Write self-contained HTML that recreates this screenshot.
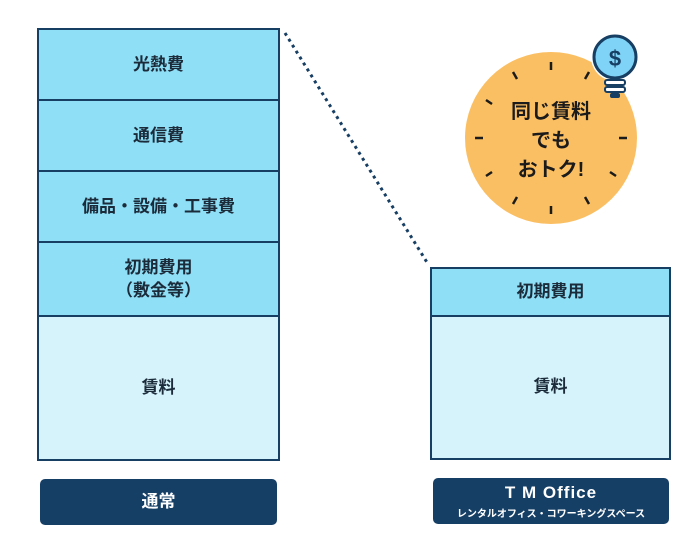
<!DOCTYPE html>
<html><head><meta charset="utf-8"><style>
body{margin:0;width:700px;height:550px;background:#fff;position:relative;font-family:"Liberation Sans","Noto Sans CJK JP",sans-serif;overflow:hidden}
.c{position:absolute;box-sizing:border-box;border:2.5px solid #173e63;display:flex;align-items:center;justify-content:center;text-align:center;font-size:17px;font-weight:bold;color:#1b2b3a;line-height:1.35}
.d{background:#8fdff6}.l{background:#d6f3fb}
.lab{position:absolute;background:#163f66;border-radius:5px;color:#fff;font-weight:bold;text-align:center}
</style></head><body>
<div class="c d" style="left:37px;top:28px;width:243px;height:74px">光熱費</div>
<div class="c d" style="left:37px;top:99px;width:243px;height:74px">通信費</div>
<div class="c d" style="left:37px;top:170px;width:243px;height:74px">備品・設備・工事費</div>
<div class="c d" style="left:37px;top:241px;width:243px;height:77px">初期費用<br>（敷金等）</div>
<div class="c l" style="left:37px;top:315px;width:243px;height:146px">賃料</div>
<div class="c d" style="left:430px;top:267px;width:241px;height:51px">初期費用</div>
<div class="c l" style="left:430px;top:315px;width:241px;height:145px">賃料</div>
<div class="lab" style="left:40px;top:479px;width:237px;height:46px;line-height:46px;font-size:17px">通常</div>
<div class="lab" style="left:433px;top:478px;width:236px;height:46px"><div style="font-size:17px;margin-top:5px;letter-spacing:1px">T M Office</div><div style="font-size:10px;margin-top:2px">レンタルオフィス・コワーキングスペース</div></div>
<svg width="700" height="550" style="position:absolute;left:0;top:0">
<line x1="285" y1="33" x2="428" y2="264" stroke="#173e63" stroke-width="3" stroke-dasharray="3,4"/>
<circle cx="551" cy="138" r="86" fill="#fbbf63"/>
<g stroke="#1b1b1b" stroke-width="2.5">
<line x1="551" y1="62" x2="551" y2="70"/><line x1="551" y1="206" x2="551" y2="214"/>
<line x1="475" y1="138" x2="483" y2="138"/><line x1="619" y1="138" x2="627" y2="138"/>
<line x1="513" y1="72" x2="517" y2="79"/><line x1="589" y1="72" x2="585" y2="79"/>
<line x1="513" y1="204" x2="517" y2="197"/><line x1="589" y1="204" x2="585" y2="197"/>
<line x1="486" y1="100" x2="492" y2="104"/><line x1="616" y1="176" x2="610" y2="172"/>
<line x1="486" y1="176" x2="492" y2="172"/>
</g>
<text x="551" y="118" font-size="20" font-weight="bold" text-anchor="middle" fill="#1b1b1b">同じ賃料</text>
<text x="551" y="147" font-size="20" font-weight="bold" text-anchor="middle" fill="#1b1b1b">でも</text>
<text x="551" y="176" font-size="20" font-weight="bold" text-anchor="middle" fill="#1b1b1b">おトク!</text>
<circle cx="615" cy="57" r="24" fill="#fff"/>
<circle cx="615" cy="57" r="21" fill="#7fd3f7" stroke="#173e63" stroke-width="3"/>
<text x="615" y="66" font-size="22" font-weight="bold" text-anchor="middle" fill="#173e63">$</text>
<rect x="605" y="80" width="20" height="5" rx="2" fill="#fff" stroke="#173e63" stroke-width="2"/>
<rect x="605" y="87" width="20" height="5" rx="2" fill="#fff" stroke="#173e63" stroke-width="2"/>
<rect x="610" y="93" width="10" height="5" rx="2" fill="#173e63"/>
</svg>
</body></html>
